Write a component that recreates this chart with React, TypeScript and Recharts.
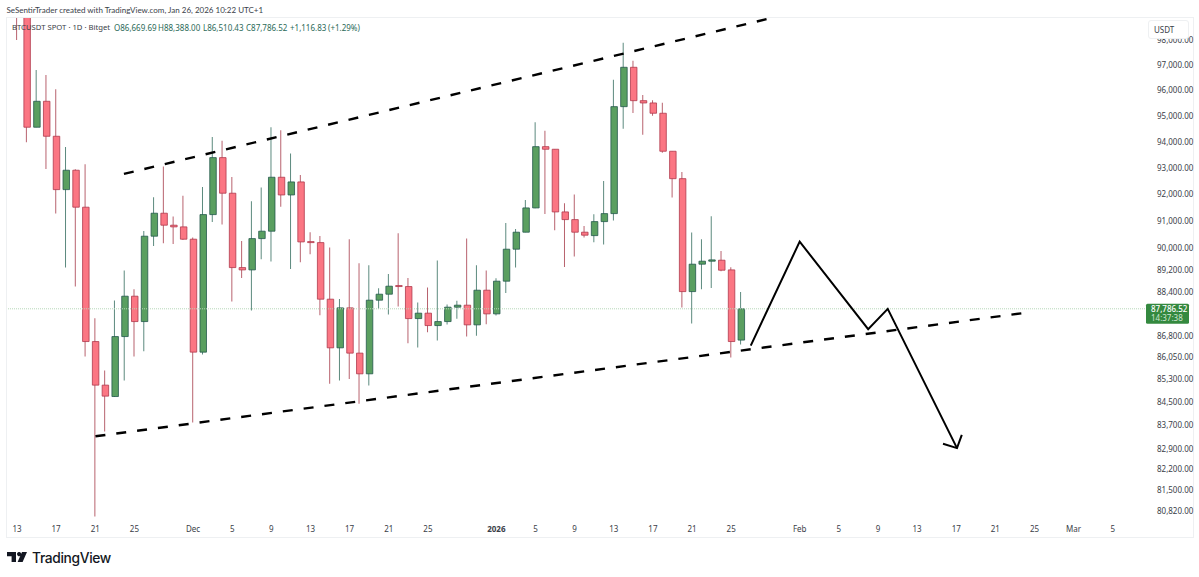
import { Bar, Cell, ComposedChart, Line, ReferenceLine, XAxis, YAxis } from 'recharts';

// one candle per day, Nov 13 -> Jan 26, the rest of the axis is empty future space
const days = [
  'Nov 13', 'Nov 14', 'Nov 15', 'Nov 16', 'Nov 17', 'Nov 18', 'Nov 19', 'Nov 20', 'Nov 21', 'Nov 22', 'Nov 23', 'Nov 24', 'Nov 25', 'Nov 26', 'Nov 27', 'Nov 28', 'Nov 29', 'Nov 30',
  'Dec 1', 'Dec 2', 'Dec 3', 'Dec 4', 'Dec 5', 'Dec 6', 'Dec 7', 'Dec 8', 'Dec 9', 'Dec 10', 'Dec 11', 'Dec 12', 'Dec 13', 'Dec 14', 'Dec 15', 'Dec 16', 'Dec 17', 'Dec 18', 'Dec 19', 'Dec 20', 'Dec 21', 'Dec 22', 'Dec 23', 'Dec 24', 'Dec 25', 'Dec 26', 'Dec 27', 'Dec 28', 'Dec 29', 'Dec 30', 'Dec 31',
  'Jan 1', 'Jan 2', 'Jan 3', 'Jan 4', 'Jan 5', 'Jan 6', 'Jan 7', 'Jan 8', 'Jan 9', 'Jan 10', 'Jan 11', 'Jan 12', 'Jan 13', 'Jan 14', 'Jan 15', 'Jan 16', 'Jan 17', 'Jan 18', 'Jan 19', 'Jan 20', 'Jan 21', 'Jan 22', 'Jan 23', 'Jan 24', 'Jan 25', 'Jan 26', 'Jan 27', 'Jan 28', 'Jan 29', 'Jan 30', 'Jan 31',
  'Feb 1', 'Feb 2', 'Feb 3', 'Feb 4', 'Feb 5', 'Feb 6', 'Feb 7', 'Feb 8', 'Feb 9', 'Feb 10', 'Feb 11', 'Feb 12', 'Feb 13', 'Feb 14', 'Feb 15', 'Feb 16', 'Feb 17', 'Feb 18', 'Feb 19', 'Feb 20', 'Feb 21', 'Feb 22', 'Feb 23', 'Feb 24', 'Feb 25', 'Feb 26', 'Feb 27', 'Feb 28',
  'Mar 1', 'Mar 2', 'Mar 3', 'Mar 4', 'Mar 5', 'Mar 6', 'Mar 7', 'Mar 8',
];

const opens = [
  100600, 99600, 94560, 95570, 94211, 92176, 92910, 91515, 86618, 85086, 84690, 86795, 88241, 87329, 90435,
  91290, 90843, 90780, 90324, 86243, 91238, 93391, 92040, 89280, 89196, 90346, 90620, 92644, 91975, 92466,
  90224, 90198, 88133, 86395, 87820, 86208, 85481, 88097, 88313, 88603, 88590, 87436, 87630, 87186, 87329,
  87845, 87917, 87211, 88458, 87605, 88785, 89955, 90583, 91488, 93811, 93712, 91338, 91051, 90583, 90457,
  90977, 91275, 95360, 96909, 95594, 95504, 95103, 93635, 92590, 88407, 89405, 89514, 89550, 89196, 86669.69,
];
const highs = [
  101000, 100000, 96802, 96604, 96040, 93800, 92950, 93140, 87450, 85597, 88083, 89170, 88494, 90632, 91890,
  93050, 91163, 91940, 90383, 92278, 94185, 94042, 92656, 90261, 91740, 92252, 94560, 94443, 93544, 92732,
  90583, 90446, 90014, 88144, 90324, 89441, 89368, 88530, 89050, 90545, 88905, 88010, 88552, 89537, 87938,
  88072, 90346, 89368, 89170, 88893, 90928, 90705, 91788, 94753, 94428, 93712, 91664, 91988, 90817, 91252,
  92504, 96419, 97890, 97171, 95817, 95610, 95516, 93635, 92846, 90570, 90324, 91178, 89892, 89295, 88388,
];
const lows = [
  97997, 93980, 94560, 92960, 91275, 89280, 88590, 86088, 80631, 83487, 84670, 85247, 86088, 86278, 90077,
  90176, 90150, 90298, 83795, 86159, 90966, 90865, 88047, 88905, 87723, 89588, 89500, 91536, 89232, 89478,
  89772, 87558, 85132, 85247, 85296, 84438, 85072, 87784, 87580, 87866, 86560, 86405, 86951, 86653, 87222,
  87426, 86795, 86820, 87236, 87544, 88360, 89280, 90583, 91477, 91264, 90657, 89306, 89683, 90383, 90213,
  90124, 91014, 94505, 95115, 94273, 95010, 93582, 91875, 87830, 87258, 88494, 88541, 89149, 86053, 86510.43,
];
const closes = [
  99600, 94560, 95570, 94211, 92176, 92910, 91515, 86618, 85086, 84704, 86795, 88241, 87329, 90435, 91290,
  90843, 90780, 90324, 86243, 91238, 93391, 92040, 89280, 89196, 90346, 90620, 92644, 91975, 92466, 90224,
  90198, 88133, 86395, 87820, 86208, 85481, 88097, 88313, 88603, 88590, 87436, 87630, 87186, 87329, 87845,
  87917, 87211, 88458, 87605, 88785, 89955, 90583, 91488, 93811, 93712, 91338, 91051, 90583, 90472, 90977,
  91275, 95360, 96909, 95594, 95504, 95103, 93635, 92590, 88407, 89405, 89514, 89562, 89185, 86618, 87786.52,
];

const priceTicks = [
  98000, 97000, 96000, 95000, 94000, 93000, 92000, 91000, 90000, 89200, 88400,
  86800, 86050, 85300, 84500, 83700, 82900, 82200, 81500, 80820,
];
const timeTicks = ['Nov 13', 'Nov 17', 'Nov 21', 'Nov 25', 'Dec 1', 'Dec 5', 'Dec 9', 'Dec 13', 'Dec 17', 'Dec 21', 'Dec 25', 'Jan 1', 'Jan 5', 'Jan 9', 'Jan 13', 'Jan 17', 'Jan 21', 'Jan 25', 'Feb 1', 'Feb 5', 'Feb 9', 'Feb 13', 'Feb 17', 'Feb 21', 'Feb 25', 'Mar 1', 'Mar 5'];
const timeLabels = ['13', '17', '21', '25', 'Dec', '5', '9', '13', '17', '21', '25', '2026', '5', '9', '13', '17', '21', '25', 'Feb', '5', '9', '13', '17', '21', '25', 'Mar', '5'];

// hand drawn stuff, x is a day position on the axis (0 = Nov 13)
const upperChannel = [{ x: 10.93, y: 92769 }, { x: 79, y: 99066 }];
const lowerChannel = [{ x: 8.02, y: 83322 }, { x: 103, y: 87640 }];
const projection = [
  { x: 75, y: 86475 },
  { x: 80, y: 90234 },
  { x: 87, y: 87058 },
  { x: 89, y: 87784 },
  { x: 96.08, y: 82921 },
];
const arrowHead = [{ x: 94.65, y: 83066 }, { x: 96.08, y: 82921 }, { x: 96.57, y: 83373 }];

const lastClose = 87786.52;
const countdown = '14:37:38';

const legendItems = [
  { text: 'O86,669.69', left: 114 },
  { text: 'H88,388.00', left: 158 },
  { text: 'L86,510.43', left: 203 },
  { text: 'C87,786.52', left: 246 },
  { text: '+1,116.83', left: 290 },
  { text: '(+1.29%)', left: 328 },
];

const rows = days.map((day, i) => ({
  day,
  wick: i < closes.length ? [lows[i], highs[i]] : undefined,
  body: i < closes.length ? [Math.min(opens[i], closes[i]), Math.max(opens[i], closes[i])] : undefined,
}));

const FONT = '"Noto Sans", sans-serif';
const TEXT = '#3a3e48';
const UP_FILL = '#5a9f60';
const UP_LINE = '#24594c';
const UP_WICK = '#5c8a7e';
const DOWN_FILL = '#fb7683';
const DOWN_LINE = '#b03a4c';
const DOWN_WICK = '#b8626e';

const isUp = (i: number) => closes[i] >= opens[i];
const formatPrice = (v: number) =>
  v.toLocaleString('en-US', { minimumFractionDigits: 2, maximumFractionDigits: 2 });

function TimeTick({ x, y, payload }: any) {
  const label = timeLabels[timeTicks.indexOf(payload.value)];
  return (
    <text
      x={x}
      y={y}
      dy={4}
      textAnchor="middle"
      fontSize={8}
      fontFamily={FONT}
      fontWeight={label === '2026' ? 700 : 400}
      fill={TEXT}
    >
      {label}
    </text>
  );
}

function LastPriceBadge({ viewBox }: any) {
  const left = viewBox.x + viewBox.width - 1;
  return (
    <g fontFamily={FONT} fontSize={8}>
      <rect x={left} y={viewBox.y - 5} width={43} height={20} rx={1.5} fill="#34893f" />
      <text x={left + 5} y={viewBox.y + 3} fill="#fff" fontWeight={500}>{formatPrice(lastClose)}</text>
      <text x={left + 5} y={viewBox.y + 12} fill="#cfe6d2">{countdown}</text>
    </g>
  );
}

function Logo() {
  return (
    <svg
      width={20}
      height={11}
      viewBox="0 0 20 11"
      style={{ position: 'absolute', left: 7, top: 552 }}
    >
      <path d="M0 0h9v10H4.6V4.2H0zM10 2.1a2.1 2.1 0 1 1 0 .01zM15 0h5l-4.4 10h-5z" fill="#131722" />
    </svg>
  );
}

export default function App() {
  const drawn = { xAxisId: 'draw', dot: false, isAnimationActive: false, legendType: 'none' as const, stroke: '#000', strokeWidth: 2 };
  return (
    <div style={{ position: 'absolute', left: 0, top: 0, width: 1199, height: 577, background: '#fff', fontFamily: FONT, overflow: 'hidden' }}>
      <div style={{ position: 'absolute', left: 6, top: 17, width: 1186, height: 519, border: '1px solid #eef0f2' }} />
      <ComposedChart
        width={1199}
        height={577}
        data={rows}
        margin={{ top: 18, right: 4, bottom: 40, left: 7 }}
        barCategoryGap={0}
      >
        <XAxis
          xAxisId="days"
          dataKey="day"
          type="category"
          interval={0}
          ticks={timeTicks}
          tick={<TimeTick />}
          tickLine={false}
          axisLine={false}
          height={17}
          padding={{ left: 5.1, right: 0 }}
        />
        <XAxis xAxisId="wick" dataKey="day" type="category" hide padding={{ left: 5.1, right: 0 }} />
        <XAxis
          xAxisId="draw"
          dataKey="x"
          type="number"
          domain={[-0.5, 115.5]}
          allowDataOverflow
          hide
          padding={{ left: 5.1, right: 0 }}
        />
        <YAxis
          orientation="right"
          scale="log"
          domain={[80516, 98884]}
          allowDataOverflow
          ticks={priceTicks}
          interval={0}
          width={48}
          tickLine={false}
          axisLine={false}
          tickMargin={4}
          tickFormatter={formatPrice}
          tick={{ fontSize: 8, fontFamily: FONT, fill: TEXT }}
        />
        <ReferenceLine
          xAxisId="days"
          y={lastClose}
          stroke="#b5d8b8"
          strokeDasharray="1 1"
          label={<LastPriceBadge />}
        />
        <Bar xAxisId="wick" dataKey="wick" barSize={1} isAnimationActive={false}>
          {rows.map((row, i) => (
            <Cell key={row.day} fill={isUp(i) ? UP_WICK : DOWN_WICK} />
          ))}
        </Bar>
        <Bar xAxisId="days" dataKey="body" barSize={6.5} minPointSize={1} isAnimationActive={false} strokeWidth={0.8}>
          {rows.map((row, i) => (
            <Cell
              key={row.day}
              fill={isUp(i) ? UP_FILL : DOWN_FILL}
              stroke={isUp(i) ? UP_LINE : DOWN_LINE}
            />
          ))}
        </Bar>
        <Line {...drawn} data={upperChannel} dataKey="y" strokeWidth={2.4} strokeDasharray="10 11" />
        <Line {...drawn} data={lowerChannel} dataKey="y" strokeWidth={2.4} strokeDasharray="10 11" />
        <Line {...drawn} data={projection} dataKey="y" />
        <Line {...drawn} data={arrowHead} dataKey="y" />
      </ComposedChart>

      <div style={{ position: 'absolute', left: 6.5, top: 4.5, fontFamily: 'Lato, sans-serif', fontSize: 8, lineHeight: '11px', color: TEXT, whiteSpace: 'nowrap' }}>
        SeSentirTrader created with TradingView.com, Jan 26, 2026 10:22 UTC+1
      </div>
      <div style={{ position: 'absolute', left: 12, top: 22, fontSize: 7.7, lineHeight: '11px', color: TEXT, whiteSpace: 'nowrap' }}>
        BTCUSDT SPOT · 1D · Bitget
      </div>
      {legendItems.map((item) => (
        <div
          key={item.text}
          style={{ position: 'absolute', left: item.left, top: 22, fontSize: 8, lineHeight: '11px', color: '#2b6a58', whiteSpace: 'nowrap' }}
        >
          {item.text}
        </div>
      ))}
      <div
        style={{
          position: 'absolute', left: 1148, top: 20, width: 41, height: 19, background: '#fff', border: '1px solid #eef0f2',
          borderRadius: 3, fontSize: 8, lineHeight: '17px', color: TEXT, paddingLeft: 5, boxSizing: 'border-box',
        }}
      >
        USDT
      </div>
      <Logo />
      <div style={{ position: 'absolute', left: 32, top: 548, fontSize: 13.8, lineHeight: '20px', fontWeight: 500, color: '#131722', fontFamily: 'Inter, sans-serif', letterSpacing: -0.35 }}>
        TradingView
      </div>
    </div>
  );
}
